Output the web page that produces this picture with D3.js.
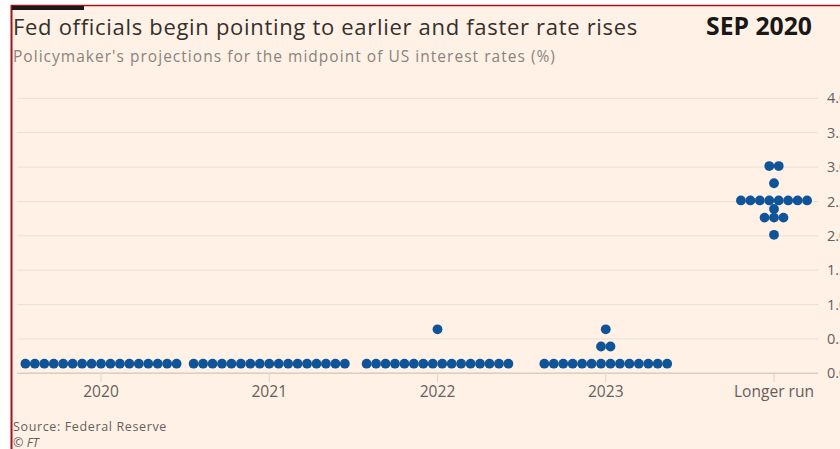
<!DOCTYPE html>
<html>
<head>
<meta charset="utf-8">
<script src="https://cdn.jsdelivr.net/npm/d3@7"></script>
<style>
  html, body { margin: 0; padding: 0; background: #ffffff; }
  svg { display: block; }
  text { font-family: "Open Sans", "Noto Sans", sans-serif; }
</style>
</head>
<body>
<svg id="chart" width="840" height="449"></svg>
<script>
// ---- data ----
const categories = ["2020", "2021", "2022", "2023", "Longer run"];
// [projected midpoint rate, number of officials]
const dots2020 = [[0.125, 17]];
const dots2021 = [[0.125, 17]];
const dots2022 = [[0.125, 16], [0.625, 1]];
const dots2023 = [[0.125, 14], [0.375, 2], [0.625, 1]];
const dotsLonger = [[2.0, 1], [2.25, 3], [2.375, 1], [2.5, 8], [2.75, 1], [3.0, 2]];
const yTicks = [0, 0.5, 1, 1.5, 2, 2.5, 3, 3.5, 4];

const titleText = "Fed officials begin pointing to earlier and faster rate rises";
const dateText = "SEP 2020";
const subtitleText = "Policymaker's projections for the midpoint of US interest rates (%)";
const sourceText = "Source: Federal Reserve";
const creditText = "© FT";

// ---- build ----
const groups = [dots2020, dots2021, dots2022, dots2023, dotsLonger];
const points = [];
groups.forEach((g, ci) => {
  g.forEach(([rate, count]) => {
    for (let i = 0; i < count; i++) {
      points.push({ cat: categories[ci], rate, i, n: count });
    }
  });
});

const W = 840, H = 449;
const svg = d3.select("#chart");

// stretch a text to a target width with letter-spacing
function spread(sel, target) {
  const w = sel.node().getComputedTextLength();
  const n = sel.text().length;
  if (w > 0 && n > 1) sel.attr("letter-spacing", ((target - w) / n).toFixed(3));
  return sel;
}
// scale a text's font-size so it spans a target width
function fitWidth(sel, target) {
  const fs = parseFloat(sel.attr("font-size"));
  const w = sel.node().getComputedTextLength();
  if (w > 0) sel.attr("font-size", (fs * target / w).toFixed(2));
  return sel;
}

// frame
svg.append("rect").attr("x", 12).attr("y", 6).attr("width", W - 12).attr("height", H - 6).attr("fill", "#fff1e5");
svg.append("line").attr("x1", 11.5).attr("x2", 11.5).attr("y1", 5).attr("y2", H).attr("stroke", "#a3121d").attr("stroke-width", 2);
svg.append("line").attr("x1", 11).attr("x2", W).attr("y1", 5.5).attr("y2", 5.5).attr("stroke", "#a3121d").attr("stroke-width", 1.5);
svg.append("rect").attr("x", 12).attr("y", 6).attr("width", 72).attr("height", 4).attr("fill", "#1a1a1a");

// titles
spread(svg.append("text").attr("x", 13).attr("y", 35).attr("font-size", 22).attr("fill", "#33302e").text(titleText), 625);
fitWidth(svg.append("text").attr("x", 812).attr("y", 35).attr("text-anchor", "end").attr("font-size", 19).attr("font-weight", 700).attr("fill", "#1a1817").text(dateText), 106);
spread(svg.append("text").attr("x", 13).attr("y", 62).attr("font-size", 15.5).attr("fill", "#8a837e").text(subtitleText), 543);

// scales
const plotL = 17, plotR = 818;
const y = d3.scaleLinear().domain([0, 4]).range([373.3, 98.3]);
const x = d3.scalePoint().domain(categories).range([101, 774]);
const dotStep = 9.45, r = 4.9;

// gridlines + right labels
const yAxis = svg.append("g");
yAxis.selectAll("line.grid").data(yTicks).join("line")
  .attr("class", "grid")
  .attr("x1", plotL).attr("x2", plotR)
  .attr("y1", d => y(d)).attr("y2", d => y(d))
  .attr("stroke", d => d === 0 ? "#d9cdc2" : "#eadfd4")
  .attr("stroke-width", d => d === 0 ? 1.5 : 1);
yAxis.selectAll("text").data(yTicks).join("text")
  .attr("x", 827).attr("y", d => y(d)).attr("dy", "0.35em")
  .attr("font-size", 14.5).attr("fill", "#66605c")
  .text(d => d3.format(".1f")(d));

// x axis ticks + labels
const xAxis = svg.append("g");
xAxis.selectAll("line").data(categories).join("line")
  .attr("x1", d => x(d)).attr("x2", d => x(d))
  .attr("y1", y(0)).attr("y2", y(0) + 9)
  .attr("stroke", "#e0d4c9").attr("stroke-width", 1);
const xLabels = xAxis.selectAll("text").data(categories).join("text")
  .attr("x", d => x(d)).attr("y", 397).attr("text-anchor", "middle")
  .attr("font-size", 14).attr("fill", "#66605c")
  .text(d => d);
{
  const last = xLabels.filter(d => d === "Longer run");
  fitWidth(last, 80);
  xLabels.attr("font-size", last.attr("font-size"));
}

// dots
svg.append("g").selectAll("circle").data(points).join("circle")
  .attr("cx", d => x(d.cat) + (d.i - (d.n - 1) / 2) * dotStep)
  .attr("cy", d => y(d.rate) - 1)
  .attr("r", r)
  .attr("fill", "#0f5499");

// footer
spread(svg.append("text").attr("x", 13).attr("y", 430.5).attr("font-size", 12.5).attr("fill", "#66605c").text(sourceText), 154);
svg.append("text").attr("x", 13).attr("y", 446.5).attr("font-size", 12.5).attr("font-style", "italic").attr("fill", "#66605c").text(creditText);
</script>
</body>
</html>
